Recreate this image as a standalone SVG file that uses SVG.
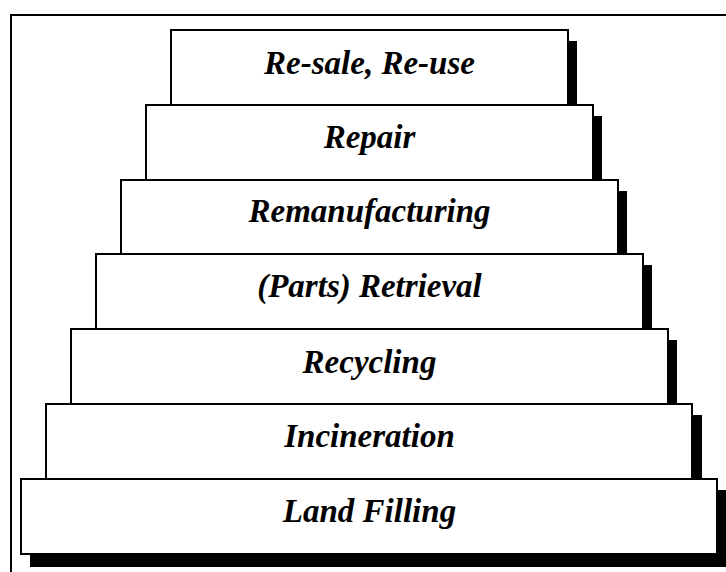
<svg xmlns="http://www.w3.org/2000/svg" width="726" height="572" viewBox="0 0 726 572">
<style>
.frame{fill:none;stroke:#000;stroke-width:2}
.shadow{fill:#000;stroke:none}
.box{fill:#fff;stroke:#000;stroke-width:2}
.lbl{font-family:"Liberation Serif","Times New Roman",serif;font-weight:bold;font-style:italic;font-size:33px;fill:#000;text-anchor:middle}
</style>
<rect width="726" height="572" fill="#fff"/>
<rect class="frame" x="11" y="15" width="740" height="600"/>
<g id="node-resale">
<rect class="shadow" x="180" y="41" width="397" height="75"/>
<rect class="box" x="171" y="30" width="397" height="75"/>
<text class="lbl" x="369.5" y="74">Re-sale, Re-use</text>
</g>
<g id="node-repair">
<rect class="shadow" x="155" y="116" width="447" height="75"/>
<rect class="box" x="146" y="105" width="447" height="75"/>
<text class="lbl" x="369.5" y="148">Repair</text>
</g>
<g id="node-remanufacturing">
<rect class="shadow" x="130" y="191" width="497" height="75"/>
<rect class="box" x="121" y="180" width="497" height="74"/>
<text class="lbl" x="369.5" y="222">Remanufacturing</text>
</g>
<g id="node-retrieval">
<rect class="shadow" x="105" y="265" width="547" height="75"/>
<rect class="box" x="96" y="254" width="547" height="75"/>
<text class="lbl" x="369.5" y="297">(Parts) Retrieval</text>
</g>
<g id="node-recycling">
<rect class="shadow" x="80" y="340" width="597" height="75"/>
<rect class="box" x="71" y="329" width="597" height="75"/>
<text class="lbl" x="369.5" y="373">Recycling</text>
</g>
<g id="node-incineration">
<rect class="shadow" x="55" y="415" width="647" height="75"/>
<rect class="box" x="46" y="404" width="646" height="75"/>
<text class="lbl" x="369.5" y="447">Incineration</text>
</g>
<g id="node-landfilling">
<rect class="shadow" x="30" y="490" width="697" height="77"/>
<rect class="box" x="21" y="479" width="696" height="75"/>
<text class="lbl" x="369.5" y="522">Land Filling</text>
</g>
<g id="connectors"></g>
</svg>
